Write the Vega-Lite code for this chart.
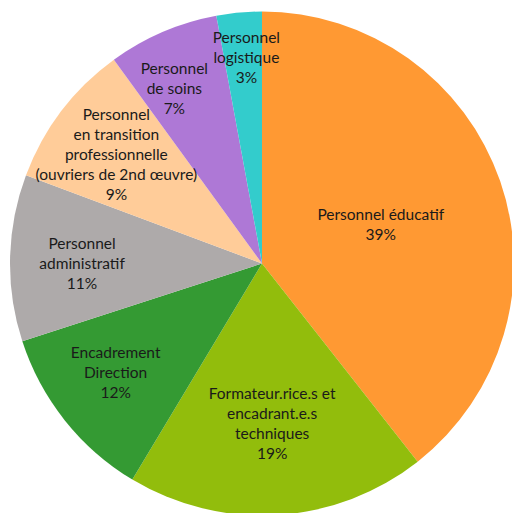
{
  "$schema": "https://vega.github.io/schema/vega-lite/v6.json",
  "width": 500,
  "height": 499,
  "autosize": "none",
  "padding": {"left": 12, "top": 14, "right": 0, "bottom": 0},
  "background": "white",
  "view": {"stroke": null},
  "config": {"text": {"font": "Lato", "fontSize": 15.5, "lineHeight": 20, "lineBreak": "\n", "color": "#1a1a1a", "align": "center", "baseline": "middle"}},
  "data": {"values": [
    {"idx": 1, "cat": "Personnel éducatif", "value": 39.4, "label": "Personnel éducatif\n39%"},
    {"idx": 2, "cat": "Formateur.rice.s et encadrant.e.s techniques", "value": 19.2, "label": "Formateur.rice.s et\nencadrant.e.s\ntechniques\n19%"},
    {"idx": 3, "cat": "Encadrement Direction", "value": 11.4, "label": "Encadrement\nDirection\n12%"},
    {"idx": 4, "cat": "Personnel administratif", "value": 10.7, "label": "Personnel\nadministratif\n11%"},
    {"idx": 5, "cat": "Personnel en transition professionnelle", "value": 9.3, "label": "Personnel\nen transition\nprofessionnelle\n(ouvriers de 2nd œuvre)\n9%"},
    {"idx": 6, "cat": "Personnel de soins", "value": 7.1, "label": "Personnel\nde soins\n7%"},
    {"idx": 7, "cat": "Personnel logistique", "value": 2.9, "label": "Personnel\nlogistique\n3%"}
  ]},
  "encoding": {
    "theta": {"field": "value", "type": "quantitative", "stack": true},
    "order": {"field": "idx", "type": "quantitative"},
    "detail": {"field": "cat"}
  },
  "layer": [
    {
      "mark": {"type": "arc", "outerRadius": 252},
      "encoding": {
        "color": {
          "field": "cat", "type": "nominal", "legend": null,
          "scale": {
            "domain": ["Personnel éducatif", "Formateur.rice.s et encadrant.e.s techniques", "Encadrement Direction", "Personnel administratif", "Personnel en transition professionnelle", "Personnel de soins", "Personnel logistique"],
            "range": ["#FF9933", "#92BD0C", "#349A33", "#AEAAAA", "#FFCC99", "#AE78D6", "#33CCCC"]
          }
        }
      }
    },
    {
      "mark": {"type": "text", "radius": 113, "dy": -12, "dx": 12},
      "encoding": {"text": {"condition": {"test": "datum.idx === 1", "field": "label"}, "value": ""}}
    },
    {
      "mark": {"type": "text", "radius": 161, "dy": -30},
      "encoding": {"text": {"condition": {"test": "datum.idx === 2", "field": "label"}, "value": ""}}
    },
    {
      "mark": {"type": "text", "radius": 182, "dy": -24, "dx": -4},
      "encoding": {"text": {"condition": {"test": "datum.idx === 3", "field": "label"}, "value": ""}}
    },
    {
      "mark": {"type": "text", "radius": 180, "dy": -16},
      "encoding": {"text": {"condition": {"test": "datum.idx === 4", "field": "label"}, "value": ""}}
    },
    {
      "mark": {"type": "text", "radius": 183, "dy": -38},
      "encoding": {"text": {"condition": {"test": "datum.idx === 5", "field": "label"}, "value": ""}}
    },
    {
      "mark": {"type": "text", "radius": 197, "dy": -13, "dx": -10},
      "encoding": {"text": {"condition": {"test": "datum.idx === 6", "field": "label"}, "value": ""}}
    },
    {
      "mark": {"type": "text", "radius": 205, "dy": -21, "dx": 3},
      "encoding": {"text": {"condition": {"test": "datum.idx === 7", "field": "label"}, "value": ""}}
    }
  ]
}
